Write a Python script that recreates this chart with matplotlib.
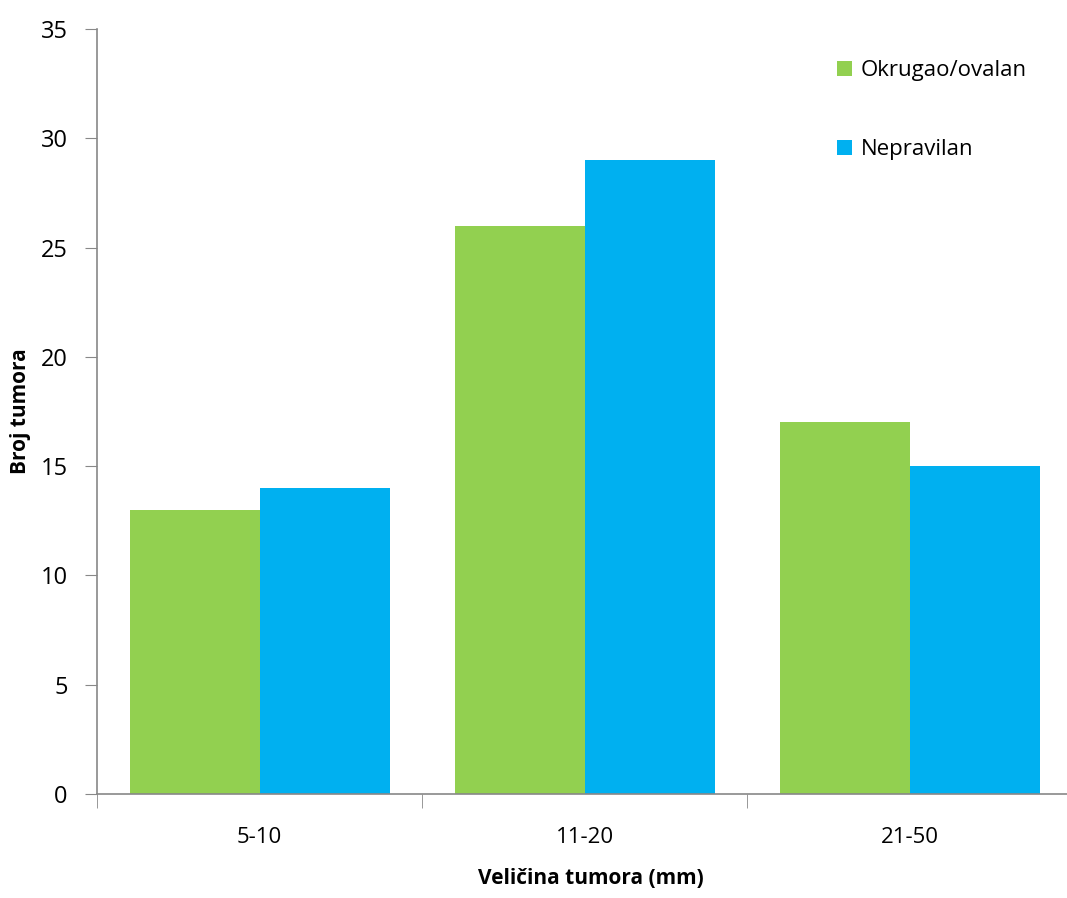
import matplotlib.pyplot as plt
import numpy as np

categories = ['5-10', '11-20', '21-50']
okrugao = [13, 26, 17]
nepravilan = [14, 29, 15]
series_labels = ['Okrugao/ovalan', 'Nepravilan']

plt.rcParams['font.family'] = ['Open Sans', 'DejaVu Sans']

fig = plt.figure(figsize=(10.67, 8.98), dpi=100)
ax = fig.add_axes([97 / 1067, 1 - 794 / 898, 975 / 1067, (794 - 29) / 898])

x = np.arange(len(categories))
w = 0.4
ax.bar(x - w / 2, okrugao, w, color='#92D050', label=series_labels[0])
ax.bar(x + w / 2, nepravilan, w, color='#00B0F0', label=series_labels[1])

ax.set_xlim(-0.5, len(categories) - 0.5)
ax.set_ylim(0, 35)
ax.set_yticks(range(0, 36, 5))
ax.set_xticks(x)
ax.set_xticklabels(categories)
ax.set_xticks(np.arange(-0.5, len(categories)), minor=True)
ax.tick_params(axis='x', which='major', length=0, pad=24, labelsize=16)
ax.tick_params(axis='x', which='minor', length=10, color='#888888', direction='out')
ax.tick_params(axis='y', length=9, color='#888888', labelsize=17, pad=12)

for s in ['top', 'right']:
    ax.spines[s].set_visible(False)
for s in ['left', 'bottom']:
    ax.spines[s].set_color('#888888')
    ax.spines[s].set_linewidth(1.2)

ax.set_ylabel('Broj tumora', fontsize=15, fontweight='bold')
ax.yaxis.set_label_coords(-0.068, 0.5)
ax.set_xlabel('Veličina tumora (mm)', fontsize=15, fontweight='bold')
ax.xaxis.set_label_coords(0.507, -0.097)

ax.legend(loc='upper left', bbox_to_anchor=(0.738, 0.985), frameon=False,
          fontsize=16, handlelength=0.7, handleheight=0.7, handletextpad=0.4,
          labelspacing=2.6)

fig.savefig('out.png', dpi=100)
